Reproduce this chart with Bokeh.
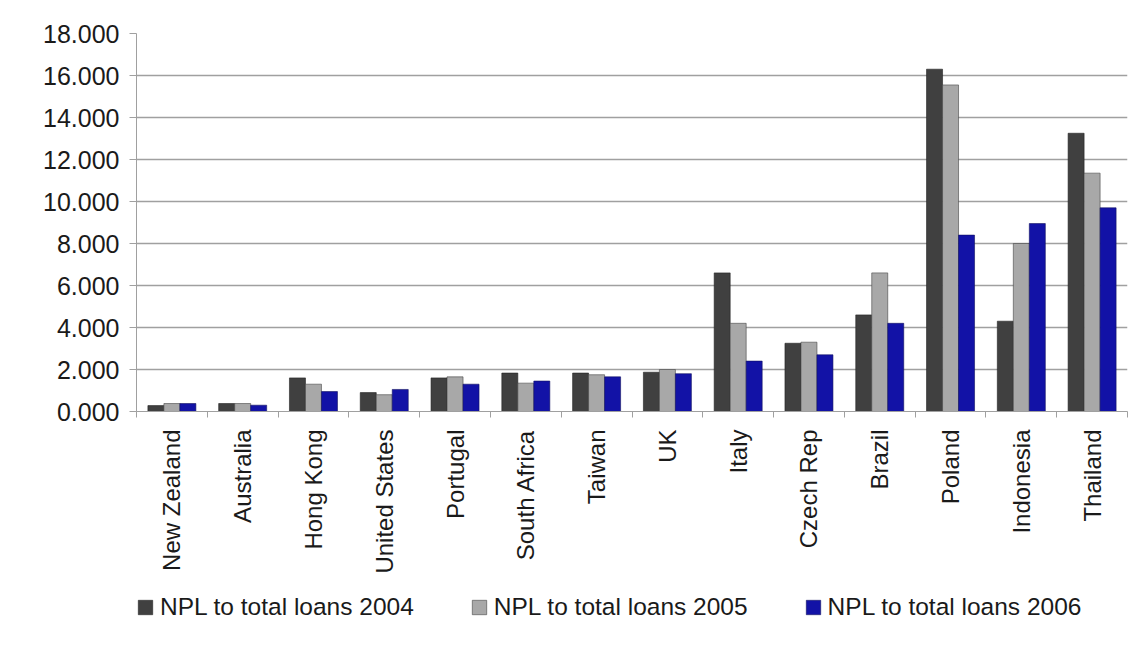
import math
from bokeh.plotting import figure
from bokeh.layouts import column
from bokeh.models import (ColumnDataSource, FixedTicker, NumeralTickFormatter, Legend,
                          LegendItem, Range1d)
from bokeh.transform import dodge
from bokeh.embed import file_html
from bokeh.resources import INLINE

countries = ["New Zealand", "Australia", "Hong Kong", "United States", "Portugal",
             "South Africa", "Taiwan", "UK", "Italy", "Czech Rep", "Brazil",
             "Poland", "Indonesia", "Thailand"]
npl_2004 = [0.28, 0.38, 1.60, 0.90, 1.60, 1.83, 1.83, 1.87, 6.60, 3.25, 4.60, 16.30, 4.30, 13.25]
npl_2005 = [0.38, 0.38, 1.30, 0.80, 1.65, 1.35, 1.75, 2.00, 4.20, 3.30, 6.60, 15.55, 8.00, 11.35]
npl_2006 = [0.38, 0.30, 0.95, 1.05, 1.30, 1.45, 1.65, 1.80, 2.40, 2.70, 4.20, 8.40, 8.95, 9.70]
series_labels = ["NPL to total loans 2004", "NPL to total loans 2005", "NPL to total loans 2006"]
y_ticks = [0, 2, 4, 6, 8, 10, 12, 14, 16, 18]

n = len(countries)
centers = [i + 0.5 for i in range(n)]
bounds = list(range(n + 1))

src = ColumnDataSource(dict(x=centers, a=npl_2004, b=npl_2005, c=npl_2006))

FONT = "Liberation Sans"
colors = ["#404040", "#a8a8a8", "#1212a6"]
edges = ["#222222", "#444444", "#101060"]
cols = ["a", "b", "c"]
bw = 0.226
offsets = [-bw, 0, bw]

p = figure(frame_width=991, frame_height=378, output_backend="svg", toolbar_location=None,
           x_range=Range1d(0, n), y_range=Range1d(0, 18),
           min_border_left=136, min_border_right=5, min_border_top=33, min_border_bottom=182)
p.outline_line_color = None
p.background_fill_color = "white"

for col, off, fc, lc in zip(cols, offsets, colors, edges):
    p.vbar(x=dodge("x", off, range=p.x_range), top=col, width=bw, source=src,
           fill_color=fc, line_color=lc, line_width=0.6)

# y axis
p.yaxis.ticker = FixedTicker(ticks=y_ticks)
p.yaxis.formatter = NumeralTickFormatter(format="0.000")
p.yaxis.major_label_text_font = FONT
p.yaxis.major_label_text_font_size = "25px"
p.yaxis.major_label_text_color = "#1a1a1a"
p.yaxis.axis_line_color = "#a0a0a0"
p.yaxis.major_tick_line_color = "#a0a0a0"
p.yaxis.major_tick_out = 7
p.yaxis.major_tick_in = 0
p.yaxis.minor_tick_line_color = None
p.yaxis.major_label_standoff = 10

# x axis
p.xaxis.ticker = FixedTicker(ticks=centers, minor_ticks=bounds)
p.xaxis.major_label_overrides = {c: name for c, name in zip(centers, countries)}
p.xaxis.major_label_orientation = math.pi / 2
p.xaxis.major_label_text_font = FONT
p.xaxis.major_label_text_font_size = "24px"
p.xaxis.major_label_text_color = "#1a1a1a"
p.xaxis.axis_line_color = "#a0a0a0"
p.xaxis.major_tick_line_color = None
p.xaxis.minor_tick_line_color = "#a0a0a0"
p.xaxis.minor_tick_out = 6
p.xaxis.minor_tick_in = 0
p.xaxis.major_label_standoff = 12

p.xgrid.grid_line_color = None
p.ygrid.ticker = FixedTicker(ticks=y_ticks)
p.ygrid.grid_line_color = "#a0a0a0"
p.ygrid.grid_line_width = 1.3

# legend strip below the chart (its proxy bars lie outside the strip's visible range)
lg = figure(frame_width=991, frame_height=50, output_backend="svg", toolbar_location=None,
            x_range=Range1d(0, n), y_range=Range1d(100, 101),
            min_border_left=136, min_border_right=5, min_border_top=0, min_border_bottom=0)
lg.outline_line_color = None
lg.axis.visible = False
lg.grid.visible = False
items = []
for lab, col, fc, lc in zip(series_labels, cols, colors, edges):
    rr = lg.vbar(x="x", top=col, width=bw, source=src,
                 fill_color=fc, line_color=lc, line_width=0.6)
    items.append(LegendItem(label=lab, renderers=[rr]))

legend = Legend(items=items, orientation="horizontal", location="top_left",
                label_text_font=FONT, label_text_font_size="24.5px", label_text_color="#1a1a1a",
                glyph_width=18, glyph_height=18, label_standoff=6, spacing=56,
                padding=3, margin=0, border_line_color=None, background_fill_alpha=0)
lg.add_layout(legend, "center")

layout = column(p, lg, spacing=0)
open("out.html", "w").write(file_html(layout, INLINE))
